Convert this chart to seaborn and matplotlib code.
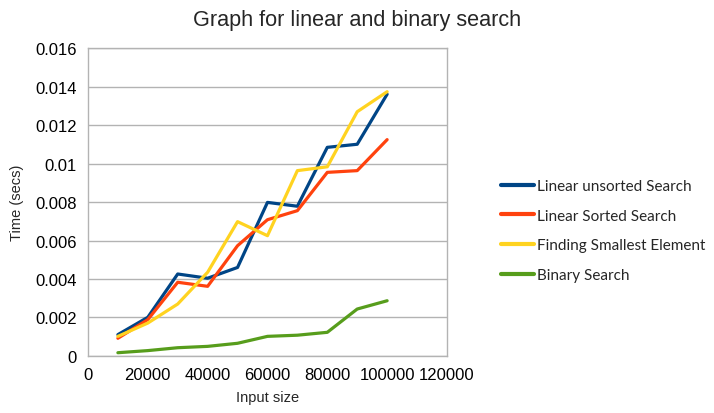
import numpy as np
import pandas as pd
import matplotlib
matplotlib.use('Agg')
import matplotlib.pyplot as plt
import seaborn as sns

sns.set_theme(style='white')
plt.rcParams['font.family'] = ['Liberation Sans', 'DejaVu Sans']

input_size = [10000, 20000, 30000, 40000, 50000, 60000, 70000, 80000, 90000, 100000]
linear_unsorted = [0.00111, 0.00201, 0.00426, 0.00404, 0.0046, 0.00798, 0.00778, 0.01084, 0.0110, 0.0136]
linear_sorted = [0.00092, 0.00189, 0.00383, 0.00362, 0.00573, 0.00708, 0.00755, 0.00954, 0.00963, 0.01124]
smallest = [0.00102, 0.00171, 0.0027, 0.00435, 0.00698, 0.00625, 0.00963, 0.00983, 0.01269, 0.01373]
binary = [0.00017, 0.00028, 0.00043, 0.0005, 0.00066, 0.00102, 0.00108, 0.00123, 0.00244, 0.00287]

names = ['Linear unsorted Search', 'Linear Sorted Search',
         'Finding Smallest Element', 'Binary Search']
colors = ['#004586', '#ff420e', '#ffd320', '#579d1c']

df = pd.DataFrame({
    'size': input_size * 4,
    'time': linear_unsorted + linear_sorted + smallest + binary,
    'series': np.repeat(names, len(input_size)),
})

fig = plt.figure(figsize=(7.14, 4.14), dpi=100)
ax = fig.add_axes([0.1232, 0.1377, 0.5028, 0.7439])
sns.lineplot(data=df, x='size', y='time', hue='series', hue_order=names,
             palette=colors, linewidth=2.3, ax=ax)

ax.set_xlim(0, 120000)
ax.set_ylim(0, 0.016)
ax.set_xticks(np.arange(0, 120001, 20000))
ax.set_yticks(np.arange(0, 0.0161, 0.002))
ax.set_xticklabels(['0', '20000', '40000', '60000', '80000', '100000', '120000'])
ax.set_yticklabels(['0', '0.002', '0.004', '0.006', '0.008', '0.01', '0.012', '0.014', '0.016'])
ax.yaxis.grid(True, color='#b3b3b3', linewidth=1)
ax.set_axisbelow(True)
for s in ax.spines.values():
    s.set_color('#b3b3b3')
    s.set_linewidth(1)
ax.tick_params(axis='both', direction='out', length=5, width=1, color='#b3b3b3',
               labelsize=12, labelcolor='black', pad=3)
ax.set_xlabel('Input size', fontsize=10.5, labelpad=6)
ax.set_ylabel('Time (secs)', fontsize=10.5, labelpad=8)

fig.suptitle('Graph for linear and binary search', fontsize=15.6, y=0.975, x=0.5)

ax.get_legend().remove()
handles, labels = ax.get_legend_handles_labels()
leg = fig.legend(handles, labels, loc='center left',
                 bbox_to_anchor=(487 / 714, 1 - 231.5 / 414), frameon=False,
                 prop={'family': ['Lato', 'DejaVu Sans'], 'size': 11},
                 handlelength=2.2, handletextpad=0.2, labelspacing=1.03)
for line in leg.get_lines():
    line.set_linewidth(3)

fig.savefig('out.png', dpi=100)
